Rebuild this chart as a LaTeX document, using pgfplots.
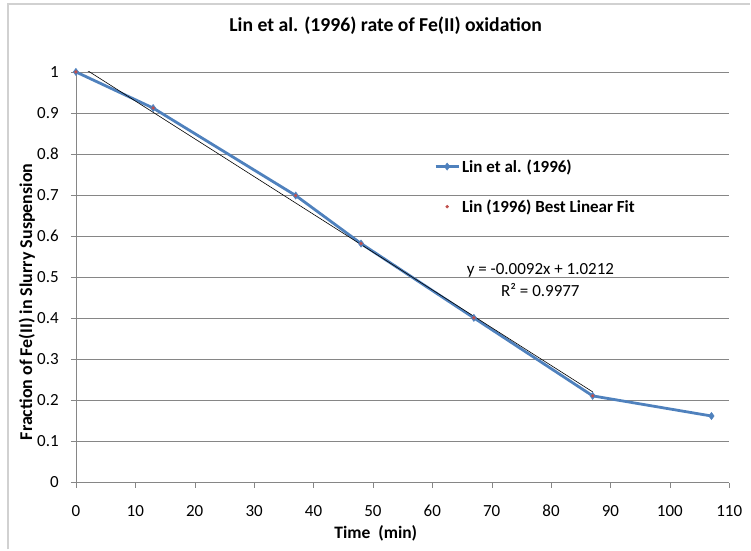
\documentclass[border=0pt]{standalone}
\usepackage{pgfplots}
\pgfplotsset{compat=1.18}
\usepackage{fontspec}
\setmainfont{Carlito}
\definecolor{xlblue}{HTML}{4F81BD}
\definecolor{xlred}{HTML}{C0504D}
\definecolor{gridgray}{HTML}{868686}
\pgfplotsset{mylegimg/.style={legend image code/.code={\draw[mark repeat=2,mark phase=2,##1] plot coordinates {(0pt,0pt)(11.5pt,0pt)(23pt,0pt)};}}}
\begin{document}
\begin{tikzpicture}[x=1pt,y=1pt]
\path (0,0) rectangle (751,550);
\draw[black!18, line width=1.5pt] (8,0) -- (8,546) -- (751,546);
\begin{axis}[
  at={(76pt,67pt)}, anchor=south west,
  scale only axis, width=654pt, height=411pt,
  xmin=0, xmax=110, ymin=0, ymax=1,
  xtick={0,10,...,110},
  ytick={0,0.1,0.2,0.3,0.4,0.5,0.6,0.7,0.8,0.9,1},
  yticklabels={0,0.1,0.2,0.3,0.4,0.5,0.6,0.7,0.8,0.9,1},
  axis x line*=bottom, axis y line*=left,
  axis line style={gridgray, -},
  tick align=outside, major tick length=5pt,
  tick style={gridgray},
  ymajorgrids, grid style={gridgray, line width=0.8pt},
  /pgf/number format/assume math mode=true,
  ticklabel style={font=\fontsize{17}{20}\selectfont, text=black, inner sep=0pt},
  xticklabel style={anchor=base, yshift=-29.4pt},
  yticklabel style={anchor=east, xshift=-12pt},
  title={Lin et al. (1996) rate of Fe(II) oxidation},
  title style={font=\bfseries\fontsize{19.7}{22}\selectfont, at={(axis description cs:0.474,1.097)}, anchor=center},
  xlabel={Time\ \ (min)},
  xlabel style={font=\bfseries\fontsize{17.5}{20}\selectfont, at={(axis description cs:0.459,-0.123)}, anchor=center},
  ylabel={Fraction of Fe(II) in Slurry Suspension},
  ylabel style={font=\bfseries\fontsize{18}{21}\selectfont, at={(axis description cs:-0.0749,0.44)}, anchor=center},
  legend style={draw=none, fill=none, at={(axis cs:60.3,0.792)}, anchor=north west,
    inner sep=0pt, row sep=22pt,
    font=\bfseries\fontsize{17}{20}\selectfont,
    nodes={inner sep=2pt}},
  legend cell align=left,
]
\addplot[xlblue, line width=2.8pt, mark=diamond*, mark size=3.6pt, mark options={fill=xlblue, line width=0.5pt}, mylegimg]
  coordinates {(0,1) (13,0.912) (37,0.699) (48,0.582) (67,0.401) (87,0.211) (107,0.162)};
\addlegendentry{Lin et al. (1996)}
\addplot[only marks, mark=*, mark size=1.5pt, xlred, mark options={draw=xlred, fill=xlred}, mylegimg]
  coordinates {(0,1) (13,0.912) (37,0.699) (48,0.582) (67,0.401) (87,0.211)};
\addlegendentry{Lin (1996) Best Linear Fit}
\addplot[black, line width=0.6pt, forget plot] coordinates {(0,1.0212) (87,0.2208)};
\node[font=\fontsize{17}{22}\selectfont, align=center, anchor=center] at (axis cs:78.2,0.494)
  {y = -0.0092x + 1.0212\\R² = 0.9977};
\end{axis}
\end{tikzpicture}
\end{document}
